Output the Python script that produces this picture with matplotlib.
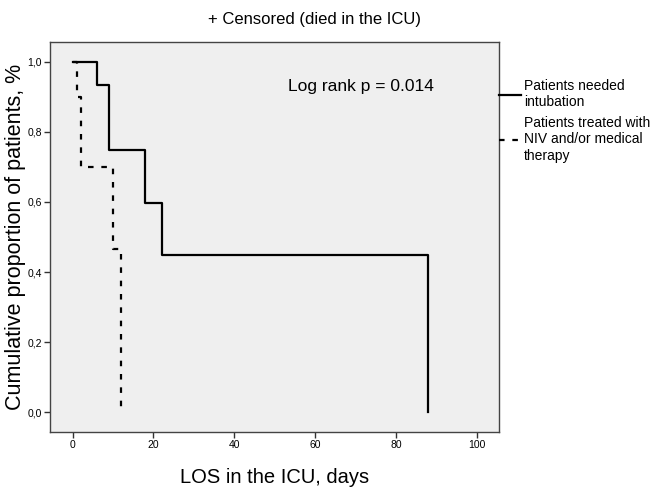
import numpy as np
import matplotlib.pyplot as plt

# Kaplan-Meier steps
intub_days = [0, 6, 9, 18, 22, 88]
intub_surv = [1.0, 0.933, 0.747, 0.598, 0.448, 0.0]

niv_days = [0, 1, 2, 10, 12]
niv_surv = [1.0, 0.90, 0.70, 0.467, 0.0]

xticks = [0, 20, 40, 60, 80, 100]
yticks = [0.0, 0.2, 0.4, 0.6, 0.8, 1.0]
ytick_labels = ['0,0', '0,2', '0,4', '0,6', '0,8', '1,0']

plt.rcParams['font.family'] = ['Liberation Sans', 'DejaVu Sans']

fig = plt.figure(figsize=(6.55, 4.88), dpi=100)
ax = fig.add_axes([0.0763, 0.1148, 0.6855, 0.7991])
ax.set_facecolor('#efefef')

ax.step(intub_days, intub_surv, where='post', color='black', lw=1.6,
        label='Patients needed\nintubation')
ax.step(niv_days, niv_surv, where='post', color='black', lw=1.6,
        dashes=(2.5, 3.5), label='Patients treated with\nNIV and/or medical\ntherapy')

ax.set_xlim(-5.6, 105.5)
ax.set_ylim(-0.056, 1.056)
ax.set_xticks(xticks)
ax.set_yticks(yticks)
ax.set_yticklabels(ytick_labels)
ax.tick_params(labelsize=7.5, length=4, width=1, color='#333333', pad=2)

for s in ax.spines.values():
    s.set_color('#444444')
    s.set_linewidth(1.0)

ax.set_xlabel('LOS in the ICU, days', fontsize=14.5, labelpad=13)
ax.set_ylabel('Cumulative proportion of patients, %', fontsize=15.5)
ax.yaxis.set_label_coords(-0.054, 0.5)
fig.text(0.48, 0.96, '+ Censored (died in the ICU)', fontsize=12,
         ha='center', va='center')

ax.text(53.3, 0.929, 'Log rank p = 0.014', fontsize=12.5, ha='left', va='center')

ax.legend(loc='upper left', bbox_to_anchor=(1.0, 0.905), frameon=False,
          fontsize=10, handlelength=1.6, handletextpad=0.2,
          labelspacing=0.5, borderaxespad=0.0, borderpad=0.0)

fig.savefig('out.png', dpi=100)
